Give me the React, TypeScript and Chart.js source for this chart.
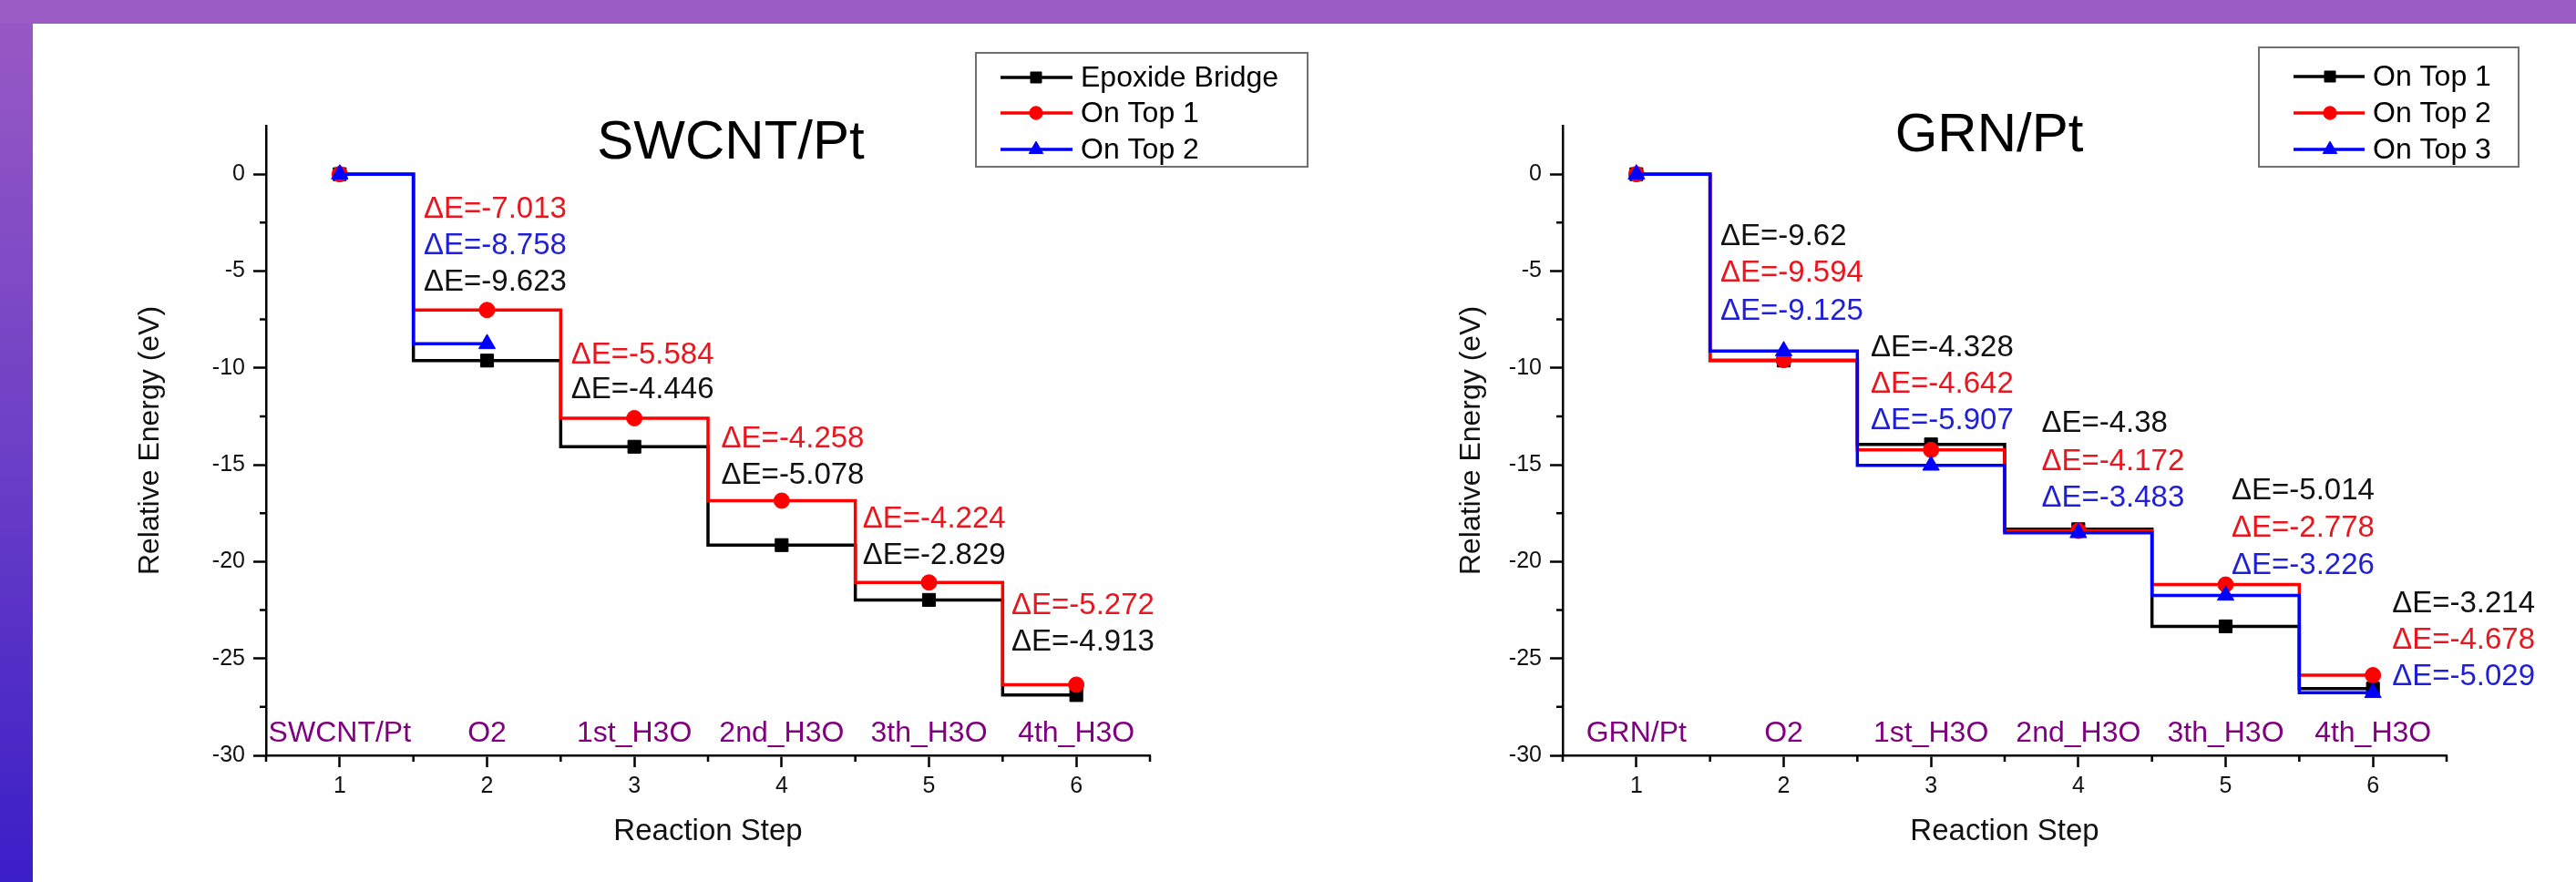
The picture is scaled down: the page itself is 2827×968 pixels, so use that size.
import React, { useEffect, useRef } from 'react';
import { Chart, registerables } from 'chart.js';
import { drawPoint } from 'chart.js/helpers';

Chart.register(...registerables);

// ---------------- data ----------------
const reactionSteps = [1, 2, 3, 4, 5, 6];

const swcntStepNames = ['SWCNT/Pt', 'O2', '1st_H3O', '2nd_H3O', '3th_H3O', '4th_H3O'];
const grnStepNames = ['GRN/Pt', 'O2', '1st_H3O', '2nd_H3O', '3th_H3O', '4th_H3O'];

const swcntSeriesNames = ['Epoxide Bridge', 'On Top 1', 'On Top 2'];
const swcntEpoxideBridge = [0, -9.623, -14.069, -19.147, -21.976, -26.889];
const swcntOnTop1 = [0, -7.013, -12.597, -16.855, -21.079, -26.351];
const swcntOnTop2 = [0, -8.758];

const swcntEpoxideBridgeDE = ['-9.623', '-4.446', '-5.078', '-2.829', '-4.913'];
const swcntOnTop1DE = ['-7.013', '-5.584', '-4.258', '-4.224', '-5.272'];
const swcntOnTop2DE = ['-8.758'];

const grnSeriesNames = ['On Top 1', 'On Top 2', 'On Top 3'];
const grnOnTop1 = [0, -9.62, -13.948, -18.328, -23.342, -26.556];
const grnOnTop2 = [0, -9.594, -14.236, -18.408, -21.186, -25.864];
const grnOnTop3 = [0, -9.125, -15.032, -18.515, -21.741, -26.77];

const grnOnTop1DE = ['-9.62', '-4.328', '-4.38', '-5.014', '-3.214'];
const grnOnTop2DE = ['-9.594', '-4.642', '-4.172', '-2.778', '-4.678'];
const grnOnTop3DE = ['-9.125', '-5.907', '-3.483', '-3.226', '-5.029'];

// ---------------- layout (positions of annotations, in data units) ----------------
const swcntNoteX = [1.57, 2.57, 3.59, 4.55, 5.56];
const swcntNoteY = [
  [-5.59, -11.14, -15.56, -19.7, -24.17],
  [-1.83, -9.36, -13.68, -17.82, -22.29],
  [-3.71],
];
const grnNoteX = [1.57, 2.59, 3.75, 5.04, 6.13];
const grnNoteY = [
  [-3.24, -8.98, -12.88, -16.36, -22.19],
  [-5.12, -10.86, -14.86, -18.29, -24.07],
  [-7.1, -12.74, -16.74, -20.22, -25.95],
];
const stepNameY = -28.87;

const FONT = '"Liberation Sans", Arial, Helvetica, sans-serif';
const LINE_COLORS = ['#000000', '#ff0000', '#0000ff'];
const TEXT_COLORS = ['#111111', '#e8161e', '#1f1fd6'];
const POINT_STYLES = ['rect', 'circle', 'triangle'];
const POINT_RADII = [10, 8.5, 10.5];
const PURPLE = '#800080';
const CANVAS_H = 968;

type Spec = {
  width: number;
  plotLeft: number;
  plotRight: number;
  yTitleCenter: number;
  title: string;
  titleX: number;
  titleY: number;
  names: string[];
  stepNames: string[];
  values: number[][];
  deltas: string[][];
  noteX: number[];
  noteY: number[][];
  legend: { l: number; t: number; r: number; b: number; rows: number[]; x0: number; x1: number; mx: number; tx: number };
};

const swcntSpec: Spec = {
  width: 1470,
  plotLeft: 292,
  plotRight: 1262,
  yTitleCenter: 165,
  title: 'SWCNT/Pt',
  titleX: 802,
  titleY: 157,
  names: swcntSeriesNames,
  stepNames: swcntStepNames,
  values: [swcntEpoxideBridge, swcntOnTop1, swcntOnTop2],
  deltas: [swcntEpoxideBridgeDE, swcntOnTop1DE, swcntOnTop2DE],
  noteX: swcntNoteX,
  noteY: swcntNoteY,
  legend: { l: 1071, t: 58, r: 1435, b: 183, rows: [85, 124, 164], x0: 1098, x1: 1177, mx: 1137, tx: 1186 },
};

const grnSpec: Spec = {
  width: 1414,
  plotLeft: 302,
  plotRight: 1272,
  yTitleCenter: 202,
  title: 'GRN/Pt',
  titleX: 770,
  titleY: 149,
  names: grnSeriesNames,
  stepNames: grnStepNames,
  values: [grnOnTop1, grnOnTop2, grnOnTop3],
  deltas: [grnOnTop1DE, grnOnTop2DE, grnOnTop3DE],
  noteX: grnNoteX,
  noteY: grnNoteY,
  legend: { l: 1066, t: 52, r: 1351, b: 183, rows: [84, 124, 164], x0: 1104, x1: 1182, mx: 1144, tx: 1191 },
};

function makeOverlay(spec: Spec) {
  return {
    id: 'overlay',
    afterDraw(chart: any) {
      const ctx: CanvasRenderingContext2D = chart.ctx;
      const xs = chart.scales.x;
      const ys = chart.scales.y;
      ctx.save();
      // minor ticks
      ctx.strokeStyle = '#000';
      ctx.lineWidth = 2.5;
      ctx.beginPath();
      xs.ticks.forEach((t: any) => {
        if (!Number.isInteger(t.value)) {
          const px = xs.getPixelForValue(t.value);
          ctx.moveTo(px, xs.top);
          ctx.lineTo(px, xs.top + 7);
        }
      });
      ys.ticks.forEach((t: any) => {
        if (Math.abs(t.value % 5) > 1e-9 && t.value < 0) {
          const py = ys.getPixelForValue(t.value);
          ctx.moveTo(ys.right - 7, py);
          ctx.lineTo(ys.right, py);
        }
      });
      ctx.stroke();

      // step names
      ctx.font = `32px ${FONT}`;
      ctx.fillStyle = PURPLE;
      ctx.textAlign = 'center';
      ctx.textBaseline = 'middle';
      spec.stepNames.forEach((name, i) => {
        ctx.fillText(name, xs.getPixelForValue(reactionSteps[i]), ys.getPixelForValue(stepNameY));
      });

      // delta E notes
      ctx.font = `33px ${FONT}`;
      ctx.textAlign = 'left';
      spec.deltas.forEach((arr, k) => {
        ctx.fillStyle = TEXT_COLORS[k];
        arr.forEach((txt, j) => {
          const x = xs.getPixelForValue(spec.noteX[j]);
          const y = ys.getPixelForValue(spec.noteY[k][j]);
          ctx.fillText('\u0394E=' + txt, x, y);
        });
      });

      // title
      ctx.font = `60px ${FONT}`;
      ctx.fillStyle = '#000';
      ctx.textAlign = 'center';
      ctx.fillText(spec.title, spec.titleX, spec.titleY);

      // legend
      const lg = spec.legend;
      ctx.fillStyle = '#fff';
      ctx.fillRect(lg.l, lg.t, lg.r - lg.l, lg.b - lg.t);
      ctx.strokeStyle = '#707070';
      ctx.lineWidth = 2;
      ctx.strokeRect(lg.l, lg.t, lg.r - lg.l, lg.b - lg.t);
      spec.names.forEach((name, k) => {
        const y = lg.rows[k];
        ctx.strokeStyle = LINE_COLORS[k];
        ctx.lineWidth = 3.5;
        ctx.beginPath();
        ctx.moveTo(lg.x0, y);
        ctx.lineTo(lg.x1, y);
        ctx.stroke();
        ctx.fillStyle = LINE_COLORS[k];
        ctx.lineWidth = 1;
        drawPoint(ctx, { pointStyle: POINT_STYLES[k], radius: POINT_RADII[k] * 0.85, rotation: 0, borderWidth: 1 } as any, lg.mx, y);
        ctx.font = `32px ${FONT}`;
        ctx.fillStyle = '#000';
        ctx.textAlign = 'left';
        ctx.textBaseline = 'middle';
        ctx.fillText(name, lg.tx, y + 1);
      });
      ctx.restore();
    },
  };
}

function buildConfig(spec: Spec): any {
  const datasets = spec.values.map((vals, k) => ({
    label: spec.names[k],
    data: vals.map((v, i) => ({ x: reactionSteps[i], y: v })),
    borderColor: LINE_COLORS[k],
    backgroundColor: LINE_COLORS[k],
    pointBackgroundColor: LINE_COLORS[k],
    pointBorderColor: LINE_COLORS[k],
    borderWidth: 3.5,
    stepped: 'middle',
    pointStyle: POINT_STYLES[k],
    pointRadius: POINT_RADII[k],
    pointBorderWidth: 1,
    order: spec.values.length - k,
    fill: false,
    tension: 0,
  }));
  const xAxisHeight = 110;
  const plotBottom = 829;
  return {
    type: 'line',
    data: { datasets },
    options: {
      animation: false,
      responsive: false,
      maintainAspectRatio: false,
      events: [],
      layout: {
        padding: {
          left: 0,
          top: 138,
          right: spec.width - spec.plotRight,
          bottom: CANVAS_H - plotBottom - xAxisHeight,
        },
      },
      plugins: {
        legend: { display: false },
        tooltip: { enabled: false },
        title: { display: false },
      },
      scales: {
        x: {
          type: 'linear',
          min: 0.5,
          max: 6.5,
          afterFit: (s: any) => {
            s.height = xAxisHeight;
          },
          ticks: {
            stepSize: 0.5,
            autoSkip: false,
            maxRotation: 0,
            padding: 6,
            color: '#111',
            font: { family: FONT, size: 25 },
            callback: (v: any) => (Number.isInteger(Number(v)) ? String(v) : ''),
          },
          grid: {
            drawOnChartArea: false,
            drawTicks: true,
            tickLength: 13,
            tickWidth: 2.5,
            tickColor: (c: any) => (c.tick && Number.isInteger(c.tick.value) ? '#000' : 'rgba(0,0,0,0)'),
          },
          border: { display: true, color: '#000', width: 2.5 },
          title: {
            display: true,
            text: 'Reaction Step',
            color: '#111',
            font: { family: FONT, size: 33 },
            padding: { top: 0, bottom: 6 },
          },
        },
        y: {
          type: 'linear',
          min: -30,
          max: 2.5,
          afterFit: (s: any) => {
            s.width = spec.plotLeft;
          },
          ticks: {
            stepSize: 2.5,
            autoSkip: false,
            padding: 9,
            color: '#111',
            font: { family: FONT, size: 25 },
            callback: (v: any) => {
              const n = Number(v);
              return Math.abs(n % 5) < 1e-9 && n <= 0 ? String(n) : '';
            },
          },
          grid: {
            drawOnChartArea: false,
            drawTicks: true,
            tickLength: 14,
            tickWidth: 2.5,
            tickColor: (c: any) =>
              c.tick && Math.abs(c.tick.value % 5) < 1e-9 && c.tick.value <= 0 ? '#000' : 'rgba(0,0,0,0)',
          },
          border: { display: true, color: '#000', width: 2.5 },
          title: {
            display: true,
            text: 'Relative Energy (eV)',
            color: '#111',
            font: { family: FONT, size: 32 },
            padding: { top: spec.yTitleCenter - 19.2, bottom: 0 },
          },
        },
      },
    },
    plugins: [makeOverlay(spec)],
  };
}

function EnergyChart({ spec, left }: { spec: Spec; left: number }) {
  const ref = useRef<HTMLCanvasElement>(null);
  useEffect(() => {
    if (!ref.current) return;
    const chart = new Chart(ref.current, buildConfig(spec));
    return () => chart.destroy();
  }, [spec]);
  return (
    <canvas
      ref={ref}
      width={spec.width}
      height={CANVAS_H}
      style={{ position: 'absolute', left, top: 0, width: spec.width, height: CANVAS_H }}
    />
  );
}

export default function App() {
  return (
    <div
      style={{
        position: 'absolute',
        left: 0,
        top: 0,
        width: 2827,
        height: 968,
        background: '#ffffff',
        overflow: 'hidden',
      }}
    >
      <div
        style={{
          position: 'absolute',
          left: 0,
          top: 0,
          width: 36,
          height: 968,
          background: 'linear-gradient(to bottom, #9b5ac4 0%, #6d40c6 50%, #3a1ec7 100%)',
        }}
      />
      <div style={{ position: 'absolute', left: 0, top: 0, width: 2827, height: 26, background: '#9a5bc4' }} />
      <EnergyChart spec={swcntSpec} left={0} />
      <EnergyChart spec={grnSpec} left={1413} />
    </div>
  );
}
